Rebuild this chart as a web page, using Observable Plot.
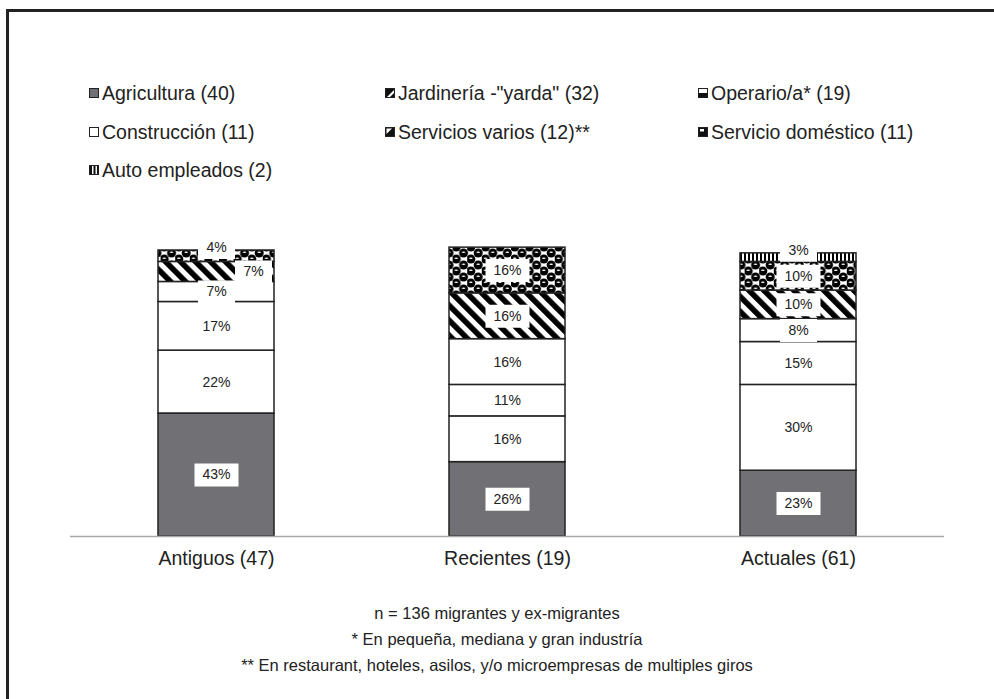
<!DOCTYPE html>
<html>
<head>
<meta charset="utf-8">
<script src="https://cdn.jsdelivr.net/npm/d3@7"></script>
<script src="https://cdn.jsdelivr.net/npm/@observablehq/plot@0.6"></script>
<style>
  html, body { margin: 0; padding: 0; background: #fff; }
  body { width: 994px; height: 699px; position: relative; overflow: hidden;
         font-family: "Liberation Sans", Arial, sans-serif; color: #222; }
  #frame { position: absolute; left: 6px; top: 9px; width: 1000px; height: 700px;
           border-left: 3px solid #222; border-top: 3px solid #222; }
  #legend { position: absolute; left: 89px; top: 74px; display: grid;
            grid-template-columns: 296px 313px auto; grid-auto-rows: 38.5px;
            font-size: 19.5px; line-height: 38.5px; }
  #legend .item { display: flex; align-items: center; white-space: nowrap; }
  #legend svg { margin-right: 3px; flex: none; }
  #chart { position: absolute; left: 0; top: 220px; }
  #notes { position: absolute; left: 0; width: 994px; top: 600px; text-align: center;
           font-size: 16.5px; line-height: 26px; }
</style>
</head>
<body>
<svg width="0" height="0" style="position:absolute">
  <defs>
    <pattern id="pat-diag" patternUnits="userSpaceOnUse" width="10.6" height="10.6" patternTransform="rotate(-45)">
      <rect width="10.6" height="10.6" fill="#fff"/>
      <rect x="0" width="5.6" height="10.6" fill="#000"/>
    </pattern>
    <pattern id="pat-dots" patternUnits="userSpaceOnUse" width="14.6" height="12">
      <rect width="14.6" height="12" fill="#fff"/>
      <circle cx="3.65" cy="3" r="4.5" fill="#000"/>
      <circle cx="10.95" cy="9" r="4.5" fill="#000"/>
      <circle cx="-3.65" cy="9" r="4.5" fill="#000"/>
      <circle cx="18.25" cy="9" r="4.5" fill="#000"/>
      <circle cx="10.95" cy="-3" r="4.5" fill="#000"/>
      <circle cx="3.65" cy="15" r="4.5" fill="#000"/>
      <ellipse cx="3.65" cy="2.2" rx="1.8" ry="0.7" fill="#fff"/>
      <ellipse cx="10.95" cy="8.2" rx="1.8" ry="0.7" fill="#fff"/>
    </pattern>
    <pattern id="pat-vstripe" patternUnits="userSpaceOnUse" width="4" height="4">
      <rect width="4" height="4" fill="#fff"/>
      <rect x="0" width="2" height="4" fill="#000"/>
    </pattern>
  </defs>
</svg>
<div id="frame"></div>
<div id="legend"></div>
<div id="chart"></div>
<div id="notes">
  <div>n = 136 migrantes y ex-migrantes</div>
  <div>* En pequeña, mediana y gran industría</div>
  <div>** En restaurant, hoteles, asilos, y/o microempresas de multiples giros</div>
</div>
<script>
// ---- data ----
const groups = ["Antiguos (47)", "Recientes (19)", "Actuales (61)"];
const categories = ["Agricultura (40)", "Jardinería -\"yarda\" (32)", "Operario/a* (19)",
  "Construcción (11)", "Servicios varios (12)**", "Servicio doméstico (11)", "Auto empleados (2)"];
const antiguos  = [43, 22, 17, 7, 7, 4, 0];
const recientes = [26, 16, 11, 16, 16, 16, 0];
const actuales  = [23, 30, 15, 8, 10, 10, 3];

// ---- styles ----
const fills = ["#717175", "#fff", "#fff", "#fff", "url(#pat-diag)", "url(#pat-dots)", "url(#pat-vstripe)"];
const swatches = [
  '<rect x="0.5" y="0.5" width="9" height="9" fill="#717175" stroke="#222"/>',
  '<rect x="0.5" y="0.5" width="9" height="9" fill="#111" stroke="#222"/><polygon points="9,2 9,9 2,9" fill="#fff"/><polygon points="9,5 9,9 5,9" fill="#111"/>',
  '<rect x="0.5" y="0.5" width="9" height="9" fill="#fff" stroke="#222"/><rect x="0.5" y="5" width="9" height="4.5" fill="#111"/>',
  '<rect x="0.5" y="0.5" width="9" height="9" fill="#fff" stroke="#222"/>',
  '<rect x="0.5" y="0.5" width="9" height="9" fill="#111" stroke="#222"/><polygon points="1.5,1.5 7,1.5 1.5,7" fill="#fff"/>',
  '<rect x="0.5" y="0.5" width="9" height="9" fill="#111" stroke="#222"/><rect x="2" y="2" width="4" height="2.5" fill="#fff"/>',
  '<rect x="0.5" y="0.5" width="9" height="9" fill="#fff" stroke="#222"/><rect x="1" y="1" width="2" height="8" fill="#111"/><rect x="4.5" y="1" width="2" height="8" fill="#111"/><rect x="8" y="1" width="1.5" height="8" fill="#111"/>'
];

// ---- legend ----
const legend = document.getElementById("legend");
categories.forEach((c, i) => {
  const d = document.createElement("div");
  d.className = "item";
  d.innerHTML = `<svg width="10" height="10">${swatches[i]}</svg><span></span>`;
  d.querySelector("span").textContent = c;
  legend.appendChild(d);
});

// ---- table ----
const series = [antiguos, recientes, actuales];
const rows = [];
const labels = [];
const H = 23 / 286 * 100; // label box height in data units
groups.forEach((g, gi) => {
  let cum = 0, lastY = -Infinity;
  const vals = series[gi];
  const lastIdx = vals.reduce((a, v, i) => v > 0 ? i : a, -1);
  vals.forEach((v, ci) => {
    if (!(v > 0)) return;
    rows.push({group: g, cat: categories[ci], value: v, fill: fills[ci]});
    const mid = cum + v / 2;
    let kind = "center", y = mid;
    if (ci === lastIdx && v < H) { kind = "top"; y = cum + v; }
    else if (mid - lastY < H) { kind = "right"; }
    if (kind !== "right") lastY = y;
    labels.push({group: g, y, text: v + "%", kind, wide: String(v).length > 1});
    cum += v;
  });
});

const rectSymbol = (w, h) => ({draw(ctx) { ctx.rect(-w / 2, -h / 2, w, h); }});
const shift = {center: [0, 0], right: [37, 0], top: [0, -3]};
const labelMarks = [];
for (const kind of ["center", "right", "top"]) {
  for (const wide of [true, false]) {
    const sub = labels.filter(d => d.kind === kind && d.wide === wide);
    if (!sub.length) continue;
    const [dx, dy] = shift[kind];
    labelMarks.push(Plot.dot(sub, {x: "group", y: "y", r: 5, symbol: rectSymbol(wide ? 44 : 37, 23),
      fill: "#fff", stroke: null, dx, dy}));
    labelMarks.push(Plot.text(sub, {x: "group", y: "y", text: "text", fontSize: 14, fill: "#222", dx, dy}));
  }
}

const chart = Plot.plot({
  width: 994, height: 356,
  marginTop: 30, marginBottom: 40, marginLeft: 70, marginRight: 50,
  style: {fontFamily: "'Liberation Sans', Arial, sans-serif", fontSize: "19.5px", color: "#222", background: "transparent"},
  x: {domain: groups, paddingInner: 0.6, paddingOuter: 0.3, tickSize: 0, tickPadding: 15, label: null},
  y: {domain: [0, 100], axis: null},
  color: {type: "identity"},
  marks: [
    Plot.barY(rows, {x: "group", y: "value", fill: "fill", stroke: "#222", strokeWidth: 1.5, order: null}),
    Plot.ruleY([0], {stroke: "#a8a8a8", strokeWidth: 1.5}),
    ...labelMarks
  ]
});
document.getElementById("chart").appendChild(chart);
</script>
</body>
</html>
